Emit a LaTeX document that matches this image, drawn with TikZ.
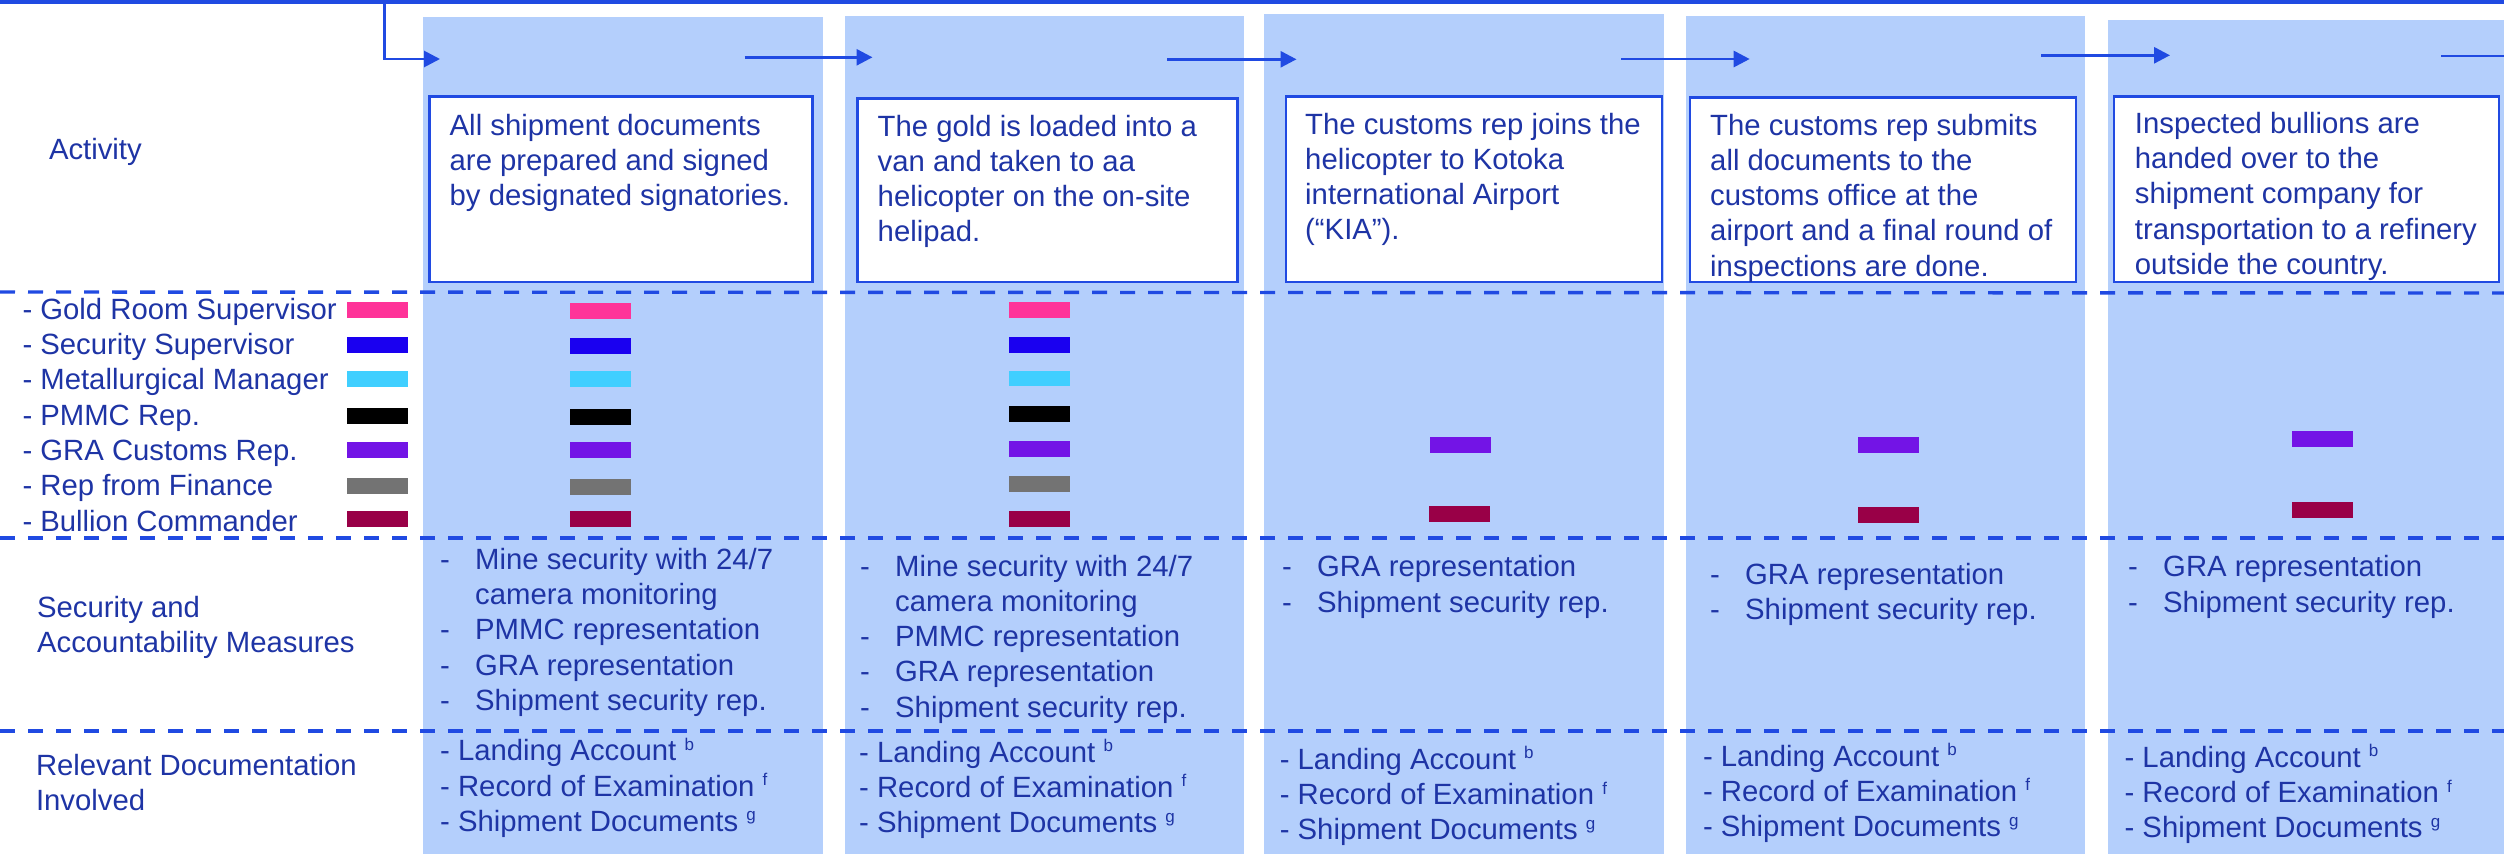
\documentclass[tikz,border=0pt]{standalone}
\usepackage{fontspec}
\setmainfont{Liberation Sans}
\usetikzlibrary{arrows.meta}

\definecolor{lineblue}{RGB}{32,74,226}
\definecolor{colfill}{RGB}{180,207,252}
\definecolor{txtblue}{RGB}{30,52,165}
\definecolor{swpink}{RGB}{255,51,153}
\definecolor{swblue}{RGB}{26,0,240}
\definecolor{swcyan}{RGB}{64,207,255}
\definecolor{swblack}{RGB}{0,0,0}
\definecolor{swpurple}{RGB}{115,20,230}
\definecolor{swgrey}{RGB}{115,115,115}
\definecolor{swmaroon}{RGB}{153,0,71}

% stacked lines, baseline of the node = baseline of the first line
\newcommand\rowsof[1]{\begin{tabular}[t]{@{}l@{}}#1\end{tabular}}
\newcommand\dsh{\makebox[35pt][l]{-}}
\newcommand\hang{\hspace*{35pt}}
\newcommand\supr[1]{\raisebox{10.5pt}{\fontsize{17}{17}\selectfont #1}}
\newcommand\doclist{\rowsof{- Landing Account \supr{b}\\- Record of Examination \supr{f}\\- Shipment Documents \supr{g}}}

\tikzset{
  lbl/.style={anchor=base west, inner sep=0pt, text=txtblue,
              font=\fontsize{29.3}{35.3}\selectfont},
  colbg/.style={fill=colfill},
  actbox/.style={draw=lineblue, line width=2.8pt, fill=white},
  divider/.style={draw=lineblue, line width=3.4pt, dash pattern=on 15pt off 13pt},
  flow/.style={draw=lineblue, line width=2.8pt, -{Triangle[length=16pt,width=16pt]}},
  flowplain/.style={draw=lineblue, line width=2.8pt},
}

\begin{document}
\begin{tikzpicture}[x=1pt, y=-1pt]
\useasboundingbox (0,0) rectangle (2504,854);

% column backgrounds
\fill[colbg] (423,16.7) rectangle (822.6,854);
\fill[colbg] (844.5,16) rectangle (1243.7,854);
\fill[colbg] (1264,14) rectangle (1664,854);
\fill[colbg] (1685.5,16) rectangle (2085,854);
\fill[colbg] (2108,20) rectangle (2504,854);

% top rule
\coordinate (topL) at (0,2);
\coordinate (topR) at (2504,2);
\draw[lineblue, line width=4pt] (topL) -- (topR);

% flow arrows
\coordinate (s0) at (384.3,0);
\coordinate (e0) at (440,59);
\draw[flow] (s0) |- (e0);
\coordinate (s1) at (744.5,57.3);  \coordinate (e1) at (872.5,57.3);
\coordinate (s2) at (1167,59.3);   \coordinate (e2) at (1296.5,59.3);
\coordinate (s3) at (1621,59);     \coordinate (e3) at (1749.7,59);
\coordinate (s4) at (2041,55.3);   \coordinate (e4) at (2170,55.3);
\coordinate (s5) at (2441,56);     \coordinate (e5) at (2504,56);
\draw[flow] (s1) -- (e1);
\draw[flow] (s2) -- (e2);
\draw[flow] (s3) -- (e3);
\draw[flow] (s4) -- (e4);
\draw[flowplain] (s5) -- (e5);

% activity boxes
\draw[actbox] (429.4,96.5) rectangle (812.8,282);
\draw[actbox] (857.4,98.7) rectangle (1237.4,282);
\draw[actbox] (1286,96.7) rectangle (1662,282);
\draw[actbox] (1690,97.7) rectangle (2076,282);
\draw[actbox] (2114,96.7) rectangle (2499,282);

\node[lbl] (act1) at (449.5,135) {\rowsof{All shipment documents\\are prepared and signed\\by designated signatories.}};
\node[lbl] (act2) at (877.5,136) {\rowsof{The gold is loaded into a\\van and taken to aa\\helicopter on the on-site\\helipad.}};
\node[lbl] (act3) at (1305,134) {\rowsof{The customs rep joins the\\helicopter to Kotoka\\international Airport\\(“KIA”).}};
\node[lbl] (act4) at (1710,135) {\rowsof{The customs rep submits\\all documents to the\\customs office at the\\airport and a final round of\\inspections are done.}};
\node[lbl] (act5) at (2134.7,133.3) {\rowsof{Inspected bullions are\\handed over to the\\shipment company for\\transportation to a refinery\\outside the country.}};

% row dividers
\coordinate (d1L) at (0,292);  \coordinate (d1R) at (2504,293);
\coordinate (d2L) at (0,538);  \coordinate (d2R) at (2504,538);
\coordinate (d3L) at (0,731);  \coordinate (d3R) at (2504,731);
\draw[divider] (d1L) -- (d1R);
\draw[divider] (d2L) -- (d2R);
\draw[divider] (d3L) -- (d3R);

% row headings
\node[lbl] (hAct) at (48.8,159.3) {Activity};
\node[lbl] (hSec) at (36.9,617) {\rowsof{Security and\\Accountability Measures}};
\node[lbl] (hDoc) at (35.8,775) {\rowsof{Relevant Documentation\\Involved}};

% legend of roles
\node[lbl] (legend) at (22.3,319.3) {\rowsof{- Gold Room Supervisor\\- Security Supervisor\\- Metallurgical Manager\\- PMMC Rep.\\- GRA Customs Rep.\\- Rep from Finance\\- Bullion Commander}};
\foreach \c/\y in {swpink/309.8, swblue/345, swcyan/378.7, swblack/416, swpurple/450, swgrey/485.7, swmaroon/518.7}
  \fill[\c] (347,\y-7.85) rectangle ++(61,15.7);

% roles present at each step
\foreach \c/\y in {swpink/310.7, swblue/345.7, swcyan/378.7, swblack/416.7, swpurple/450, swgrey/487.3, swmaroon/518.7}
  \fill[\c] (570,\y-7.85) rectangle ++(61,15.7);
\foreach \c/\y in {swpink/309.8, swblue/345, swcyan/378.5, swblack/414, swpurple/449, swgrey/484, swmaroon/519}
  \fill[\c] (1009,\y-7.85) rectangle ++(61,15.7);
\fill[swpurple] (1430,437) rectangle ++(61,15.7);
\fill[swmaroon] (1429,506) rectangle ++(61,15.7);
\fill[swpurple] (1858,437) rectangle ++(61,15.7);
\fill[swmaroon] (1858,507) rectangle ++(61,15.7);
\fill[swpurple] (2292.4,431) rectangle ++(61,15.7);
\fill[swmaroon] (2292.4,502) rectangle ++(61,15.7);

% security and accountability measures
\node[lbl] (sec1) at (440,569.3) {\rowsof{\dsh Mine security with 24/7\\\hang camera monitoring\\\dsh PMMC representation\\\dsh GRA representation\\\dsh Shipment security rep.}};
\node[lbl] (sec2) at (860,576) {\rowsof{\dsh Mine security with 24/7\\\hang camera monitoring\\\dsh PMMC representation\\\dsh GRA representation\\\dsh Shipment security rep.}};
\node[lbl] (sec3) at (1282,576.7) {\rowsof{\dsh GRA representation\\\dsh Shipment security rep.}};
\node[lbl] (sec4) at (1710,584.3) {\rowsof{\dsh GRA representation\\\dsh Shipment security rep.}};
\node[lbl] (sec5) at (2128,576.7) {\rowsof{\dsh GRA representation\\\dsh Shipment security rep.}};

% documentation
\node[lbl] (doc1) at (440,760.7) {\doclist};
\node[lbl] (doc2) at (859,762) {\doclist};
\node[lbl] (doc3) at (1279.6,769.3) {\doclist};
\node[lbl] (doc4) at (1702.8,766) {\doclist};
\node[lbl] (doc5) at (2124.4,767.3) {\doclist};
\end{tikzpicture}
\end{document}
